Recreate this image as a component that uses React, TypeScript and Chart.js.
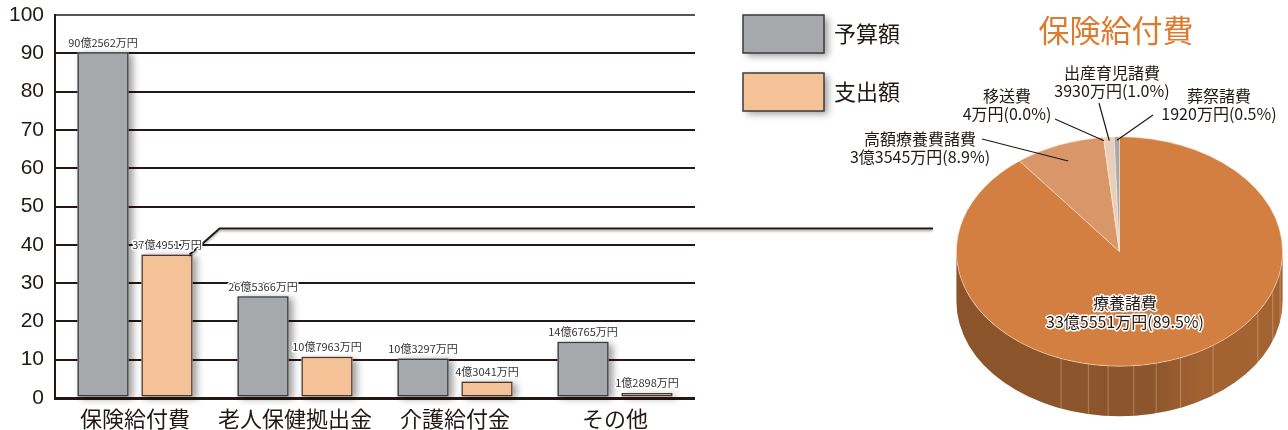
import React, { useEffect, useRef } from "react";
import { Chart, registerables } from "chart.js";

Chart.register(...registerables);

// ---- data ----
const categories = ["保険給付費", "老人保健拠出金", "介護給付金", "その他"];
const seriesNames = ["予算額", "支出額"];
const budget = [90.2562, 26.5366, 10.3297, 14.6765]; // 億円
const spending = [37.4951, 10.7963, 4.3041, 1.2898]; // 億円
const yMin = 0;
const yMax = 100;
const yStep = 10;

const pieTitle = "保険給付費";
const pieLabels = ["療養諸費", "高額療養費諸費", "移送費", "出産育児諸費", "葬祭諸費"];
const pieValues = [335551, 33545, 4, 3930, 1920]; // 万円

// ---- style ----
const INK = "#231815";
const JP = "'Noto Sans CJK JP', 'Noto Sans', sans-serif";
const NUM = "'Liberation Sans', Arial, sans-serif";
const barColors = ["#a7a8ab", "#f5c197"];
const pieColors = ["#d27f41", "#d99668", "#dfc0a6", "#e8cfbb", "#a6a8ab"];
const TILT = 0.703;
const DEPTH = 50;

const fmtOku = (v: number) => {
  const n = Math.round(v * 10000);
  return `${Math.floor(n / 10000)}億${n % 10000}万円`;
};
const fmtMan = (n: number) => {
  const oku = Math.floor(n / 10000);
  return (oku > 0 ? `${oku}億` : "") + `${n % 10000}万円`;
};
const shade = (hex: string, f: number) => {
  const h = hex.replace("#", "");
  const r = Math.round(parseInt(h.slice(0, 2), 16) * f);
  const g = Math.round(parseInt(h.slice(2, 4), 16) * f);
  const b = Math.round(parseInt(h.slice(4, 6), 16) * f);
  return `rgb(${r},${g},${b})`;
};

const haloText = (ctx: CanvasRenderingContext2D, t: string, x: number, y: number, w = 3) => {
  ctx.lineJoin = "round";
  ctx.strokeStyle = "#ffffff";
  ctx.lineWidth = w;
  ctx.strokeText(t, x, y);
  ctx.fillText(t, x, y);
};

const barDecor = {
  id: "barDecor",
  beforeDatasetsDraw(chart: any) {
    const ctx = chart.ctx as CanvasRenderingContext2D;
    chart.data.datasets.forEach((ds: any, di: number) => {
      const meta = chart.getDatasetMeta(di);
      meta.data.forEach((bar: any) => {
        ctx.save();
        ctx.shadowColor = "rgba(0,0,0,0.38)";
        ctx.shadowBlur = 7;
        ctx.shadowOffsetX = 4;
        ctx.shadowOffsetY = 2;
        ctx.fillStyle = ds.backgroundColor;
        ctx.fillRect(bar.x - bar.width / 2, bar.y, bar.width, bar.base - bar.y);
        ctx.restore();
      });
    });
  },
  afterDatasetsDraw(chart: any) {
    const ctx = chart.ctx as CanvasRenderingContext2D;
    // connector from first spending bar toward the pie
    const pb = chart.getDatasetMeta(1).data[0];
    const x0 = pb.x + pb.width / 2;
    const y0 = pb.y;
    ctx.save();
    ctx.shadowColor = "rgba(0,0,0,0.3)";
    ctx.shadowBlur = 2;
    ctx.shadowOffsetY = 2;
    ctx.strokeStyle = INK;
    ctx.lineWidth = 2;
    ctx.beginPath();
    ctx.moveTo(x0 - 3, y0);
    ctx.lineTo(x0 + 10, y0 - 11);
    ctx.moveTo(x0 + 10, y0 - 11);
    ctx.lineTo(x0 + 27, y0 - 26);
    ctx.lineTo(933, y0 - 26);
    ctx.stroke();
    ctx.restore();

    // value labels
    ctx.save();
    ctx.font = `11px ${JP}`;
    ctx.textAlign = "center";
    ctx.textBaseline = "middle";
    ctx.fillStyle = "#333";
    chart.data.datasets.forEach((ds: any, di: number) => {
      const meta = chart.getDatasetMeta(di);
      meta.data.forEach((bar: any, i: number) => {
        haloText(ctx, fmtOku(ds.data[i]), bar.x, bar.y - 10, 3);
      });
    });
    ctx.restore();

    // legend
    ctx.save();
    chart.data.datasets.forEach((ds: any, di: number) => {
      const bx = 743;
      const by = 15 + di * 58;
      const bw = 81;
      const bh = 38;
      ctx.save();
      ctx.shadowColor = "rgba(0,0,0,0.38)";
      ctx.shadowBlur = 7;
      ctx.shadowOffsetX = 4;
      ctx.shadowOffsetY = 3;
      ctx.fillStyle = ds.backgroundColor;
      ctx.fillRect(bx, by, bw, bh);
      ctx.restore();
      ctx.strokeStyle = "#3b3b3b";
      ctx.lineWidth = 1.5;
      ctx.strokeRect(bx, by, bw, bh);
      ctx.fillStyle = INK;
      ctx.font = `22px ${JP}`;
      ctx.textAlign = "left";
      ctx.textBaseline = "middle";
      ctx.fillText(ds.label, bx + 91, by + bh / 2);
    });
    ctx.restore();
  },
};

const labelLayout = [
  { x: 325, y: 303, inside: true },
  { x: 120, y: 139, lx: 182, ly: 139, r: 0.85 },
  { x: 207, y: 96, lx: 255, ly: 119, r: 0.97 },
  { x: 312, y: 73, lx: 299, ly: 103, r: 0.97 },
  { x: 419, y: 96, lx: 353, ly: 115, r: 0.97 },
];
const facetAngles = [10, 20, 32, 55, 68, 77, 85, 94, 101, 111];

const pie3d = {
  id: "pie3d",
  beforeDatasetsDraw(chart: any) {
    const ctx = chart.ctx as CanvasRenderingContext2D;
    const meta = chart.getDatasetMeta(0);
    const a0 = meta.data[0];
    const cx = a0.x;
    const cy = a0.y;
    const r = a0.outerRadius;
    const ry = r * TILT;
    ctx.save();
    meta.data.forEach((arc: any, i: number) => {
      const s = Math.max(arc.startAngle, 0);
      const e = Math.min(arc.endAngle, Math.PI);
      if (e <= s) return;
      const base = pieColors[i];
      const g = ctx.createLinearGradient(cx - r, 0, cx + r, 0);
      g.addColorStop(0, shade(base, 0.66));
      g.addColorStop(0.6, shade(base, 0.67));
      g.addColorStop(0.75, shade(base, 0.77));
      g.addColorStop(1, shade(base, 0.78));
      ctx.beginPath();
      ctx.ellipse(cx, cy, r, ry, 0, s, e);
      ctx.ellipse(cx, cy + DEPTH, r, ry, 0, e, s, true);
      ctx.closePath();
      ctx.fillStyle = g;
      ctx.fill();
    });
    ctx.strokeStyle = "rgba(255,215,180,0.35)";
    ctx.lineWidth = 1;
    facetAngles.forEach((deg) => {
      const t = (deg * Math.PI) / 180;
      const x = cx + r * Math.cos(t);
      const y = cy + ry * Math.sin(t);
      ctx.beginPath();
      ctx.moveTo(x, y);
      ctx.lineTo(x, y + DEPTH);
      ctx.stroke();
    });
    ctx.translate(cx, cy);
    ctx.scale(1, TILT);
    ctx.translate(-cx, -cy);
  },
  afterDatasetsDraw(chart: any) {
    const ctx = chart.ctx as CanvasRenderingContext2D;
    ctx.restore();
    const meta = chart.getDatasetMeta(0);
    const vals: number[] = chart.data.datasets[0].data;
    const total = vals.reduce((a, b) => a + b, 0);
    ctx.save();
    ctx.font = `16px ${JP}`;
    ctx.textAlign = "center";
    ctx.textBaseline = "middle";
    ctx.fillStyle = INK;
    meta.data.forEach((arc: any, i: number) => {
      const L: any = labelLayout[i];
      const line2 = `${fmtMan(vals[i])}(${((vals[i] / total) * 100).toFixed(1)}%)`;
      if (L.inside) {
        haloText(ctx, chart.data.labels[i], L.x, L.y, 3);
        haloText(ctx, line2, L.x, L.y + 19, 3);
        return;
      }
      ctx.fillText(chart.data.labels[i], L.x, L.y);
      ctx.fillText(line2, L.x, L.y + 18);
      const mid = (arc.startAngle + arc.endAngle) / 2;
      const tx = arc.x + arc.outerRadius * L.r * Math.cos(mid);
      const ty = arc.y + arc.outerRadius * TILT * L.r * Math.sin(mid);
      ctx.strokeStyle = INK;
      ctx.lineWidth = 1.2;
      ctx.beginPath();
      ctx.moveTo(L.lx, L.ly);
      ctx.lineTo(tx, ty);
      ctx.stroke();
    });
    ctx.font = `31px ${JP}`;
    ctx.fillStyle = "#de7a2e";
    ctx.fillText(pieTitle, 316, 30);
    ctx.restore();
  },
};

export default function App() {
  const barRef = useRef<HTMLCanvasElement>(null);
  const pieRef = useRef<HTMLCanvasElement>(null);

  useEffect(() => {
    const bar = new Chart(barRef.current as HTMLCanvasElement, {
      type: "bar",
      data: {
        labels: categories,
        datasets: [
          {
            label: seriesNames[0],
            data: budget,
            backgroundColor: barColors[0],
            borderColor: "#3b3b3b",
            borderWidth: 1.5,
            borderSkipped: false,
            categoryPercentage: 0.8,
            barPercentage: 0.8,
          },
          {
            label: seriesNames[1],
            data: spending,
            backgroundColor: barColors[1],
            borderColor: "#3b3b3b",
            borderWidth: 1.5,
            borderSkipped: false,
            categoryPercentage: 0.8,
            barPercentage: 0.8,
          },
        ],
      },
      options: {
        animation: false,
        responsive: false,
        maintainAspectRatio: false,
        layout: { padding: { top: 15, right: 593, left: 0, bottom: 0 } },
        plugins: { legend: { display: false }, tooltip: { enabled: false } },
        scales: {
          x: {
            grid: { display: false, drawTicks: false },
            border: { display: false },
            ticks: {
              font: { family: JP, size: 22 },
              color: INK,
              padding: 7,
              maxRotation: 0,
              autoSkip: false,
            },
            afterFit: (s: any) => {
              s.height = 32;
              s.paddingLeft = 0;
              s.paddingRight = 0;
            },
          },
          y: {
            min: yMin,
            max: yMax,
            ticks: {
              stepSize: yStep,
              font: { family: NUM, size: 21 },
              color: INK,
              padding: 11,
            },
            grid: {
              color: (c: any) => (c.tick && c.tick.value === yMax ? "#555" : INK),
              lineWidth: (c: any) => (c.tick && c.tick.value === yMin ? 3 : 2),
              drawTicks: false,
            },
            border: { display: true, color: INK, width: 2 },
            afterFit: (s: any) => {
              s.width = 55;
              s.paddingTop = 0;
              s.paddingBottom = 0;
            },
          },
        },
      } as any,
      plugins: [barDecor],
    });

    const pie = new Chart(pieRef.current as HTMLCanvasElement, {
      type: "pie",
      data: {
        labels: pieLabels,
        datasets: [
          {
            data: pieValues,
            backgroundColor: pieColors,
            borderColor: "rgba(255,235,215,0.75)",
            borderWidth: 0.8,
          },
        ],
      },
      options: {
        animation: false,
        responsive: false,
        maintainAspectRatio: false,
        layout: { padding: { left: 156, top: 88, right: 5, bottom: 15 } },
        plugins: { legend: { display: false }, tooltip: { enabled: false } },
      } as any,
      plugins: [pie3d],
    });

    return () => {
      bar.destroy();
      pie.destroy();
    };
  }, []);

  return (
    <div style={{ position: "fixed", left: 0, top: 0, width: 1288, height: 430, background: "#fff" }}>
      <canvas
        ref={barRef}
        width={1288}
        height={430}
        style={{ position: "absolute", left: 0, top: 0, width: 1288, height: 430 }}
      />
      <canvas
        ref={pieRef}
        width={488}
        height={430}
        style={{ position: "absolute", left: 800, top: 0, width: 488, height: 430 }}
      />
    </div>
  );
}
